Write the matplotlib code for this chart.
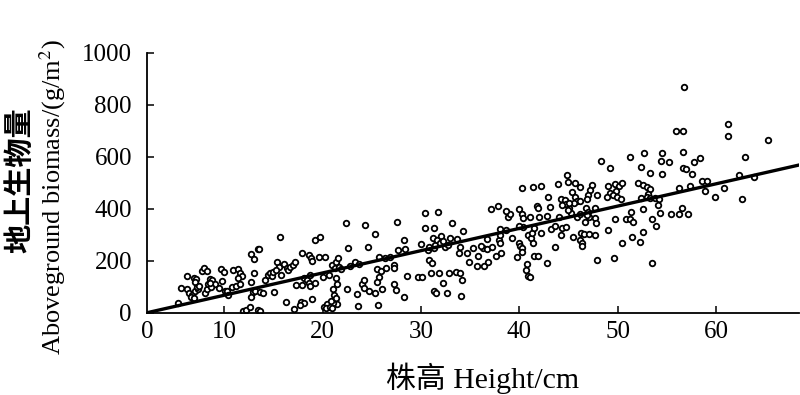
import matplotlib
matplotlib.use("Agg")
import matplotlib.pyplot as plt
import numpy as np

plt.rcParams['font.family'] = ['Liberation Serif', 'Noto Sans CJK SC']
plt.rcParams['mathtext.fontset'] = 'stix'

# plant height (cm) and aboveground biomass (g/m2)
height = [
    5.3, 6.2, 5.6, 6.2, 6.9, 7.1, 7.0, 6.4, 6.7, 6.6, 6.9, 7.0, 7.3, 7.2, 7.7, 7.9, 8.2, 7.4,
    8.0, 8.2, 8.4, 8.6, 8.8, 9.1, 8.7, 8.6, 9.7, 10.0, 9.5, 9.8, 10.1, 10.3, 10.4, 10.8, 10.9,
    11.4, 11.6, 11.8, 11.4, 11.2, 11.6, 11.9, 12.2, 12.6, 12.7, 13.0, 12.7, 12.9, 12.7,
    13.4, 13.5, 13.0, 13.4, 13.6, 13.1, 13.6, 13.9, 14.1, 14.5, 14.7, 14.9, 15.0, 15.1, 15.4,
    15.6, 15.3, 15.7, 15.8, 16.1, 16.4, 16.5, 16.7, 17.0, 17.2, 16.3, 17.1, 17.3, 17.9, 17.8,
    18.1, 17.9, 18.1, 18.4, 18.6, 18.7, 18.7, 18.6, 18.8, 18.9, 18.9, 19.2, 19.7, 19.2, 19.6,
    20.2, 20.0, 20.7, 20.1, 20.4, 20.3, 21.0, 21.4, 21.6, 21.3, 21.7, 21.9, 21.4, 21.5, 21.1,
    21.2, 21.3, 21.5, 21.1, 20.8, 21.0, 22.4, 22.6, 22.5, 22.8, 23.3, 23.7, 23.5, 23.6,
    17.7, 20.9, 21.4,
    24.0, 24.2, 24.2, 24.7, 24.3, 24.6, 25.3, 25.3, 25.6, 26.0, 25.5, 25.9, 26.4, 25.7, 25.5,
    25.7, 26.3, 26.9, 27.3, 27.3, 27.3, 27.5, 27.6, 27.7, 28.4, 28.3, 28.3, 28.6, 29.7, 30.1,
    30.0, 30.4, 30.4, 31.3, 31.7, 30.7, 30.8, 31.1, 30.8, 31.3, 31.4, 31.0, 31.3, 31.5, 31.2,
    31.6, 32.0, 31.9, 32.2, 32.4, 32.8, 33.0, 31.8, 32.2, 32.7, 32.9, 33.2, 33.6, 34.0, 33.7,
    33.9, 34.0, 34.2, 34.1, 34.3,
    34.7, 34.9, 35.3, 35.7, 36.4, 35.8, 36.3, 36.7, 37.2, 36.1, 36.7, 36.8, 37.1, 37.8, 37.6,
    38.1, 37.9, 38.0, 38.0, 38.0, 38.7, 38.9, 39.1, 38.7, 39.3, 39.8, 40.0, 40.1, 40.3, 40.3,
    40.0, 40.3, 40.4, 40.3, 40.4, 40.0, 40.8, 40.7, 40.9, 41.1, 41.1, 40.9, 41.2, 41.3, 41.5,
    41.4, 42.2, 41.4, 41.5, 41.8, 41.9, 42.0, 42.2, 41.9, 42.8, 42.8, 42.9, 43.1, 43.2, 43.6,
    43.6, 43.9, 44.0, 44.2, 44.6, 44.7, 44.3, 44.2, 44.3, 44.8, 44.9, 45.1, 45.0,
    56.7, 55.9, 56.6, 56.6, 56.6, 52.7, 54.5, 51.3, 54.4, 55.2, 48.3, 49.2, 52.4, 53.3, 54.5,
    56.2, 45.7, 46.2, 45.4, 47.4, 47.2, 47.0, 46.9, 47.9, 45.7, 45.9, 46.2, 45.6, 45.1, 49.0,
    49.7, 50.1, 50.4, 49.2, 49.8, 49.5, 48.9, 49.9, 50.3, 52.1, 52.6, 53.0, 53.3, 53.1, 53.0,
    53.3, 52.4, 53.8, 54.2, 54.1, 46.8, 47.7, 47.0, 47.1, 46.9, 45.3, 45.9, 46.2, 45.0, 47.7,
    47.8, 46.7, 49.7, 49.0, 50.8, 51.3, 51.6, 51.4, 52.6, 52.6, 53.5, 54.3, 53.9, 55.4, 56.2,
    56.5, 45.5, 46.3, 46.6, 47.1, 47.7, 46.2, 46.4, 46.4, 50.4, 51.5, 52.3, 47.9, 49.6, 53.5,
    61.2, 61.2, 65.3, 57.8, 58.4, 63.0, 57.0, 57.6, 58.6, 59.1, 62.3, 63.9, 57.4, 58.9, 60.8,
    59.9, 62.6, 57.2,
]
biomass = [
    38, 140, 95, 92, 135, 130, 119, 77, 69, 62, 57, 85, 92, 100, 160, 171, 160, 103,
    77, 90, 110, 128, 126, 110, 100, 115, 168, 158, 95, 123, 85, 85, 68, 100, 164,
    167, 154, 141, 132, 103, 110, 5, 12, 20, 226, 205, 119, 81, 62,
    244, 246, 152, 10, 8, 85, 81, 74, 126, 145, 154, 141, 158, 81, 196,
    177, 164, 292, 145, 187, 171, 164, 177, 183, 194, 40, 13, 105, 105, 42,
    38, 228, 132, 126, 115, 104, 145, 222, 209, 200, 52, 280, 291, 115, 213,
    213, 136, 145, 23, 33, 17, 183, 196, 209, 173, 177, 167, 132, 110, 90,
    68, 49, 33, 36, 23, 17, 346, 248, 90, 181, 194, 187, 72, 27,
    30, 45, 55,
    110, 126, 94, 83, 337, 254, 301, 75, 28, 90, 167, 162, 173, 138, 119,
    215, 212, 215, 183, 171, 110, 87, 350, 241, 244, 280, 62, 141, 138, 138,
    263, 382, 325, 325, 388, 241, 203, 190, 254, 248, 260, 154, 85, 75, 286,
    280, 295, 267, 277, 254, 260, 286, 154, 115, 77, 154, 346, 158, 154, 282,
    231, 254, 126, 64, 314,
    228, 196, 248, 180, 181, 218, 248, 244, 254, 258, 282, 196, 399, 412, 219,
    231, 280, 269, 299, 321, 318, 369, 380, 391, 289, 215, 269, 257, 248, 235,
    398, 380, 363, 481, 331, 333, 187, 164, 141, 136, 369, 299, 286, 308, 325,
    485, 488, 267, 218, 410, 402, 367, 308, 218, 190, 372, 446, 408, 321, 334,
    254, 495, 367, 436, 433, 418, 414, 299, 327, 328, 530, 402, 504,
    869, 700, 700, 619, 555, 613, 613, 598, 583, 581, 583, 558, 559, 538, 532,
    481, 498, 485, 465, 491, 472, 453, 436, 453, 446, 430, 430, 423, 421, 488,
    494, 487, 497, 462, 469, 453, 446, 446, 437, 500, 491, 485, 475, 457, 446,
    440, 440, 440, 436, 414, 402, 402, 388, 369, 376, 382, 369, 378, 395, 363,
    344, 350, 359, 318, 359, 359, 350, 388, 398, 312, 360, 385, 333, 380, 380,
    402, 292, 305, 303, 302, 299, 280, 269, 257, 267, 290, 273, 203, 209, 190,
    726, 680, 664, 581, 594, 600, 552, 532, 508, 508, 530, 521, 487, 468, 478,
    446, 437, 380,
]

# linear fit shown in the figure
fit_slope = 8.57
fit_intercept = -18.6

x_ticks = [10, 20, 30, 40, 50, 60]
y_ticks = [0, 200, 400, 600, 800, 1000]
x_min, x_max = 2.17, 68.46

fig = plt.figure(figsize=(8, 3.95), dpi=100)
ax = fig.add_axes([0.184, 0.2084, 0.815, 0.6582])

ax.scatter(height, biomass, s=16, facecolors='white', edgecolors='black',
           linewidths=1.3, zorder=2)

xs = np.array([x_min, x_max])
ax.plot(xs, fit_intercept + fit_slope * xs, color='black', lw=2.4, zorder=3)

ax.set_xlim(x_min, x_max)
ax.set_ylim(0, 1000)
ax.set_xticks([x_min] + x_ticks)
ax.set_xticklabels(['0'] + [str(t) for t in x_ticks])
ax.set_yticks(y_ticks)
ax.tick_params(direction='in', length=5, width=1.1, labelsize=18)
ax.tick_params(axis='x', pad=6)
ax.tick_params(axis='y', pad=11)
ax.xaxis.get_major_ticks()[0].tick1line.set_visible(False)

for side in ['top', 'right']:
    ax.spines[side].set_visible(False)
for side in ['left', 'bottom']:
    ax.spines[side].set_linewidth(1.3)

ax.set_xlabel('株高 Height/cm', fontsize=21.5)
ax.xaxis.set_label_coords(0.514, -0.19)
fig.text(0.026, 0.545, '地上生物量', rotation=90, ha='center', va='center',
         fontsize=21, fontweight='bold')
fig.text(0.066, 0.50, 'Aboveground biomass/(g/m$^2$)', rotation=90,
         ha='center', va='center', fontsize=19)

plt.savefig('out.png', dpi=100)
plt.close()
